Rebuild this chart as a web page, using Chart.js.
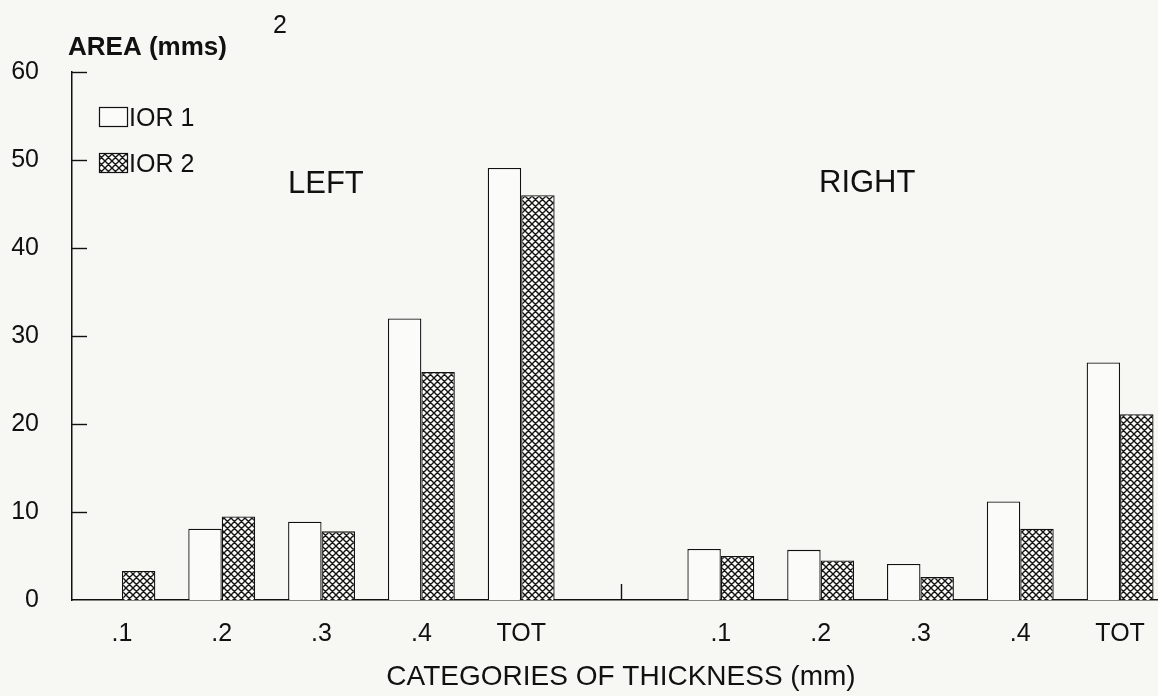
<!DOCTYPE html>
<html>
<head>
<meta charset="utf-8">
<title>Area by thickness category</title>
<script src="https://cdn.jsdelivr.net/npm/chart.js@4.4.1/dist/chart.umd.min.js"></script>
<style>
  html, body { margin: 0; padding: 0; background: #f7f7f4; overflow: hidden; }
  #wrap { width: 1158px; height: 696px; overflow: hidden; }
  canvas { display: block; }
</style>
</head>
<body>
<div id="wrap"><canvas id="areaChart" width="1171" height="696"></canvas></div>
<script>
const thickness = ['.1', '.2', '.3', '.4', 'TOT'];
const leftIor1 = [0, 8.1, 8.9, 32.0, 49.1];
const leftIor2 = [3.3, 9.5, 7.8, 25.9, 46.0];
const rightIor1 = [5.8, 5.7, 4.1, 11.2, 27.0];
const rightIor2 = [5.0, 4.5, 2.6, 8.1, 21.1];
const seriesNames = ['IOR 1', 'IOR 2'];
const sideNames = ['LEFT', 'RIGHT'];

const FONT = '"Liberation Sans", Arial, Helvetica, sans-serif';
const INK = '#111111';

// gap category between the two sides
const labels = [...thickness, '', ...thickness];
const ior1 = [...leftIor1, null, ...rightIor1];
const ior2 = [...leftIor2, null, ...rightIor2];

// cross hatch fill for IOR 2
const makeHatch = () => {
  const s = 7;
  const c = document.createElement('canvas');
  c.width = s; c.height = s;
  const g = c.getContext('2d');
  g.fillStyle = '#fbfbf9';
  g.fillRect(0, 0, s, s);
  g.strokeStyle = '#141414';
  g.lineWidth = 1.4;
  g.beginPath();
  for (const o of [-s, 0, s]) {
    g.moveTo(o - 1, -1); g.lineTo(o + s + 1, s + 1);
    g.moveTo(o - 1, s + 1); g.lineTo(o + s + 1, -1);
  }
  g.stroke();
  return g.createPattern(c, 'repeat');
};

const ctx = document.getElementById('areaChart').getContext('2d');
const hatch = makeHatch();

const decor = {
  id: 'decor',
  afterDraw(chart) {
    const { ctx, scales: { x, y } } = chart;
    ctx.save();
    ctx.strokeStyle = INK;
    ctx.lineWidth = 1.4;

    // inward ticks on the y axis
    y.ticks.forEach(t => {
      if (t.value === 0) return;
      const py = Math.round(y.getPixelForValue(t.value)) + 0.5;
      ctx.beginPath();
      ctx.moveTo(x.left, py);
      ctx.lineTo(x.left + 15, py);
      ctx.stroke();
    });

    // little mark in the gap between sides
    const gx = Math.round(x.getPixelForValue(thickness.length)) + 0.5;
    const by = y.getPixelForValue(0);
    ctx.beginPath();
    ctx.moveTo(gx, by);
    ctx.lineTo(gx, by - 16);
    ctx.stroke();

    ctx.fillStyle = INK;
    ctx.textBaseline = 'alphabetic';
    ctx.textAlign = 'left';

    // y axis title
    ctx.font = `bold 26px ${FONT}`;
    ctx.fillText('AREA (mms)', 68, 55);
    ctx.font = `25px ${FONT}`;
    ctx.fillText('2', 273, 33);

    // side labels
    ctx.font = `31px ${FONT}`;
    ctx.fillText(sideNames[0], 288, 193);
    ctx.fillText(sideNames[1], 819, 192);

    // legend
    ctx.font = `25px ${FONT}`;
    chart.data.datasets.forEach((ds, i) => {
      const bx = 99, bt = 107 + i * 46;
      ctx.fillStyle = ds.backgroundColor;
      ctx.fillRect(bx, bt, 28, 19);
      ctx.lineWidth = 1.2;
      ctx.strokeRect(bx + 0.5, bt + 0.5, 28, 19);
      ctx.fillStyle = INK;
      ctx.fillText(ds.label, 129, bt + 19);
    });
    ctx.restore();
  }
};

const chart = new Chart(ctx, {
  type: 'bar',
  data: {
    labels: labels,
    datasets: [
      {
        label: seriesNames[0],
        data: ior1,
        backgroundColor: '#fbfbf9',
        borderColor: INK,
        borderWidth: 1.3,
      },
      {
        label: seriesNames[1],
        data: ior2,
        backgroundColor: hatch,
        borderColor: INK,
        borderWidth: 1.3,
      }
    ],
  },
  options: {
    responsive: false,
    animation: false,
    layout: { padding: { top: 72, left: 0, right: 1, bottom: 0 } },
    datasets: {
      bar: { categoryPercentage: 0.67, barPercentage: 1.0 }
    },
    plugins: {
      legend: { display: false },
      tooltip: { enabled: false },
    },
    scales: {
      x: {
        grid: { display: false },
        border: { display: true, color: INK, width: 1.5 },
        ticks: {
          color: INK,
          font: { family: FONT, size: 25 },
          padding: 11,
          maxRotation: 0,
          autoSkip: false,
        },
        title: {
          display: true,
          text: 'CATEGORIES OF THICKNESS (mm)',
          color: INK,
          font: { family: FONT, size: 28 },
          padding: { top: 0, bottom: 2 },
        },
        afterFit: (scale) => { scale.height = 96; },
      },
      y: {
        min: 0,
        max: 60,
        grid: { display: false },
        border: { display: true, color: INK, width: 1.5 },
        ticks: {
          stepSize: 10,
          color: INK,
          font: { family: FONT, size: 25 },
          padding: 25,
        },
        afterFit: (scale) => { scale.width = 72; },
      }
    }
  },
  plugins: [decor],
});
</script>
</body>
</html>
